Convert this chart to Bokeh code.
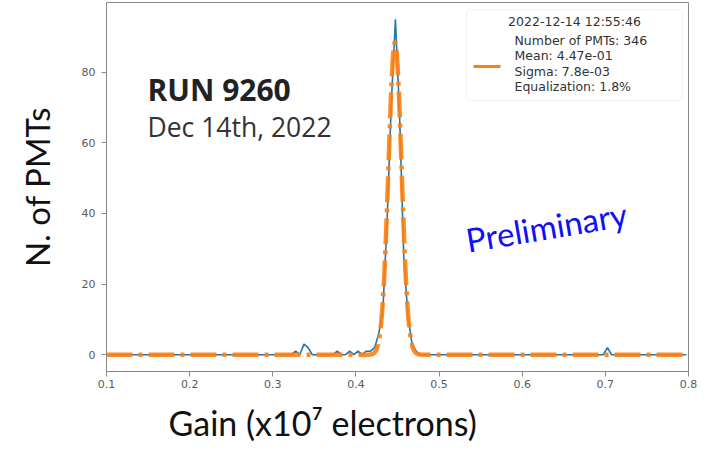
import numpy as np
from bokeh.plotting import figure
from bokeh.models import FixedTicker, Label, BoxAnnotation, ColumnDataSource, Title
from bokeh.embed import file_html
from bokeh.resources import INLINE

# Gain histogram of the PMTs (bin width 0.005, x10^7 electrons)
bin_lo = 0.1
bin_width = 0.005
n_bins = 140
gain_counts = [
    0, 0, 0, 0, 0, 0, 0, 0, 0, 0, 0, 0, 0, 0, 0, 0, 0, 0, 0, 0,   # 0.10 - 0.20
    0, 0, 0, 0, 0, 0, 0, 0, 0, 0, 0, 0, 0, 0, 0, 0, 0, 0, 0, 0,   # 0.20 - 0.30
    0, 0, 0, 0, 0, 1, 0, 3, 2, 0, 0, 0, 0, 0, 0, 1, 0, 0, 1, 0,   # 0.30 - 0.40
    1, 0, 1, 1, 2, 6, 13, 38, 71, 95, 68, 28, 11, 3, 1, 0, 0, 0, 0, 0,  # 0.40 - 0.50
    0, 0, 0, 0, 0, 0, 0, 0, 0, 0, 0, 0, 0, 0, 0, 0, 0, 0, 0, 0,   # 0.50 - 0.60
    0, 0, 0, 0, 0, 0, 0, 0, 0, 0, 0, 0, 0, 0, 0, 0, 0, 0, 0, 0,   # 0.60 - 0.70
    2, 0, 0, 0, 0, 0, 0, 0, 0, 0, 0, 0, 0, 0, 0, 0, 0, 0, 0, 0,   # 0.70 - 0.80
]
bin_centers = [bin_lo + bin_width * (i + 0.5) for i in range(n_bins)]

# Gaussian fit results
run_number = "9260"
run_date = "Dec 14th, 2022"
fit_timestamp = "2022-12-14 12:55:46"
n_pmts = 346
fit_mean = 0.447
fit_sigma = 0.0078
equalization = 1.8

x_ticks = [0.1, 0.2, 0.3, 0.4, 0.5, 0.6, 0.7, 0.8]
y_ticks = [0, 20, 40, 60, 80]

# fitted curve, normalised to the number of PMTs and the bin width
fit_x = np.linspace(0.1, 0.8, 2801)
fit_amp = n_pmts * bin_width / (fit_sigma * np.sqrt(2 * np.pi))
fit_y = fit_amp * np.exp(-0.5 * ((fit_x - fit_mean) / fit_sigma) ** 2)

W, H = 716, 452
FL, FR, FT, FB = 106, 688, 2, 371
X0, X1 = 0.1, 0.8
Y0, Y1 = -4.75, 99.75


def dx(px):
    return X0 + (px - FL) * (X1 - X0) / (FR - FL)


def dy(py):
    return Y1 - (py - FT) * (Y1 - Y0) / (FB - FT)


p = figure(width=W, height=H, x_range=(X0, X1), y_range=(Y0, Y1),
           output_backend="svg", toolbar_location=None,
           min_border_left=FL, min_border_right=W - FR,
           min_border_top=FT, min_border_bottom=H - FB)
p.background_fill_color = "white"
p.border_fill_color = "white"
p.grid.visible = False
p.outline_line_color = "#8a8a8a"
p.outline_line_width = 1

for ax in (p.xaxis[0], p.yaxis[0]):
    ax.axis_line_color = "#8a8a8a"
    ax.major_tick_line_color = "#8a8a8a"
    ax.major_tick_out = 5
    ax.major_tick_in = 0
    ax.minor_tick_line_color = None
    ax.major_label_text_font = "DejaVu Sans"
    ax.major_label_text_font_size = "11px"
    ax.major_label_text_color = "#5a5a5a"

p.xaxis.ticker = FixedTicker(ticks=x_ticks)
p.yaxis.ticker = FixedTicker(ticks=y_ticks)
p.xaxis.major_label_standoff = 3
p.yaxis.major_label_standoff = 6

# axis titles
p.yaxis.axis_label = "N. of PMTs"
p.yaxis.axis_label_text_font = "Lato"
p.yaxis.axis_label_text_font_size = "33px"
p.yaxis.axis_label_text_font_style = "normal"
p.yaxis.axis_label_text_color = "#111111"
p.yaxis.axis_label_standoff = 22

p.add_layout(Title(text="Gain (x10\u2077 electrons)", align="left", offset=62,
                   text_font="Lato", text_font_size="34px", text_font_style="normal",
                   text_color="#111111", standoff=18), "below")

hist_src = ColumnDataSource(dict(x=bin_centers, y=gain_counts))
p.line("x", "y", source=hist_src, line_color="#1f77b4", line_width=1.6)

fit_src = ColumnDataSource(dict(x=fit_x, y=fit_y))
p.line("x", "y", source=fit_src, line_color="#ff7f0e", line_width=4.5,
       line_dash="26 6 4 6", line_alpha=0.9)

# run annotation
p.add_layout(Label(x=dx(147), y=dy(89), text="RUN " + run_number,
                   text_font="Open Sans", text_font_style="bold",
                   text_font_size="30px", text_color="#222222",
                   text_baseline="middle"))
p.add_layout(Label(x=dx(147), y=dy(126), text=run_date,
                   text_font="Open Sans", text_font_size="26.5px",
                   text_color="#333333", text_baseline="middle"))

p.add_layout(Label(x=dx(546), y=dy(226), text="Preliminary",
                   text_font="Lato", text_font_size="33px",
                   text_color="#1010f5", angle=9.5, angle_units="deg",
                   text_align="center", text_baseline="middle"))

# fit summary box
p.add_layout(BoxAnnotation(left=dx(466), right=dx(682), top=dy(9), bottom=dy(100),
                           fill_color="white", fill_alpha=0.85,
                           line_color="#d0d0d0", line_width=1, border_radius=4))
p.line(x=[dx(473), dx(500)], y=[dy(66), dy(66)], line_color="#ff7f0e",
       line_width=3, level="overlay")
p.add_layout(Label(x=dx(574), y=dy(21), text=fit_timestamp,
                   text_font="DejaVu Sans", text_font_size="12.5px",
                   text_color="#333333", text_align="center", text_baseline="middle"))
legend_lines = [
    f"Number of PMTs: {n_pmts}",
    f"Mean: {fit_mean:.2e}",
    f"Sigma: {fit_sigma:.1e}",
    f"Equalization: {equalization:.1f}%",
]
for k, t in enumerate(legend_lines):
    p.add_layout(Label(x=dx(514), y=dy(40 + 15.3 * k), text=t,
                       text_font="DejaVu Sans", text_font_size="12.5px",
                       text_color="#333333", text_baseline="middle"))

open("out.html", "w").write(file_html(p, INLINE))
